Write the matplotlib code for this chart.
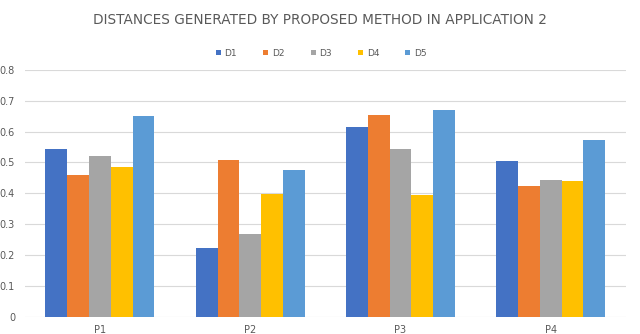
import numpy as np
import matplotlib.pyplot as plt

# data
categories = ['P1', 'P2', 'P3', 'P4']
series_names = ['D1', 'D2', 'D3', 'D4', 'D5']
d1 = [0.544, 0.221, 0.616, 0.506]
d2 = [0.458, 0.509, 0.655, 0.424]
d3 = [0.520, 0.267, 0.544, 0.443]
d4 = [0.485, 0.398, 0.395, 0.440]
d5 = [0.650, 0.476, 0.670, 0.571]
y_ticks = [0, 0.1, 0.2, 0.3, 0.4, 0.5, 0.6, 0.7, 0.8]

colors = ['#4472C4', '#ED7D31', '#A5A5A5', '#FFC000', '#5B9BD5']
text_color = '#595959'

fig = plt.figure(figsize=(6.4, 3.34), dpi=100)
ax = fig.add_axes([0.0387, 0.0518, 0.9393, 0.7392])

x = np.arange(len(categories))
bar_w = 0.145
for i, (name, vals) in enumerate(zip(series_names, [d1, d2, d3, d4, d5])):
    ax.bar(x + (i - 2) * bar_w, vals, width=bar_w, color=colors[i],
           label=name, zorder=3)

ax.set_xlim(-0.5, 3.5)
ax.set_ylim(0, 0.8)
ax.set_yticks(y_ticks)
ax.set_yticklabels(['0', '0.1', '0.2', '0.3', '0.4', '0.5', '0.6', '0.7', '0.8'])
ax.set_xticks(x)
ax.set_xticklabels(categories)
ax.tick_params(axis='both', length=0, labelsize=7, colors=text_color)
ax.tick_params(axis='y', pad=7)
ax.tick_params(axis='x', pad=6)
ax.grid(axis='y', color='#d9d9d9', linewidth=0.8, zorder=0)
for s in ax.spines.values():
    s.set_visible(False)

fig.text(0.5, 0.939, 'DISTANCES GENERATED BY PROPOSED METHOD IN APPLICATION 2',
         ha='center', va='center', fontsize=9.8, color=text_color,
         family='Liberation Sans Narrow')

fig.legend(loc='center', bbox_to_anchor=(0.502, 0.841), ncol=5, frameon=False,
           fontsize=6.5, handlelength=0.55, handleheight=0.55, handletextpad=0.4,
           columnspacing=2.9, labelcolor=text_color)

fig.savefig('out.png', dpi=100)
